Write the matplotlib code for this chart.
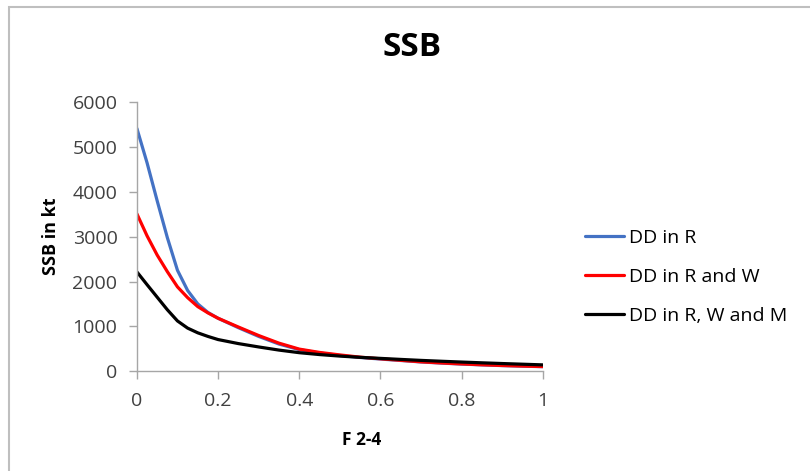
import matplotlib.pyplot as plt
from matplotlib.patches import Rectangle

# F 2-4 values and SSB (kt)
f_values = [0.0, 0.025, 0.05, 0.075, 0.1, 0.125, 0.15, 0.175, 0.2, 0.25,
            0.3, 0.35, 0.4, 0.45, 0.5, 0.55, 0.6, 0.65, 0.7, 0.75, 0.8,
            0.85, 0.9, 0.95, 1.0]
ssb_dd_r = [5415, 4650, 3800, 2980, 2250, 1800, 1500, 1310, 1180, 970,
            775, 605, 480, 405, 350, 305, 270, 238, 205, 180, 158,
            140, 124, 111, 100]
ssb_dd_rw = [3510, 3020, 2590, 2220, 1880, 1640, 1440, 1300, 1180, 985,
             795, 625, 492, 418, 362, 312, 276, 242, 208, 183, 161,
             142, 126, 113, 102]
ssb_dd_rwm = [2215, 1930, 1650, 1370, 1120, 960, 855, 775, 705, 615,
              540, 470, 412, 370, 336, 308, 285, 262, 240, 221, 203,
              186, 170, 155, 140]

series_labels = ["DD in R", "DD in R and W", "DD in R, W and M"]
series_colors = ["#4472C4", "#FF0000", "#000000"]
x_ticks = [0, 0.2, 0.4, 0.6, 0.8, 1]
x_tick_labels = ["0", "0.2", "0.4", "0.6", "0.8", "1"]
y_ticks = [0, 1000, 2000, 3000, 4000, 5000, 6000]

plt.rcParams['font.family'] = ['Open Sans', 'DejaVu Sans']

fig = plt.figure(figsize=(8.1, 4.71), dpi=100)
ax = fig.add_axes([0.169, 0.212, 0.501, 0.571])

# outer chart border (gray frame that runs off the right/bottom edges)
fig.patches.append(Rectangle((9 / 810, -0.05), 1.0, 1 - 7 / 471 + 0.05,
                             transform=fig.transFigure, fill=False,
                             edgecolor="#BFBFBF", linewidth=1.5))

for ys, label, color in zip([ssb_dd_r, ssb_dd_rw, ssb_dd_rwm], series_labels, series_colors):
    ax.plot(f_values, ys, color=color, linewidth=2.3, label=label,
            solid_capstyle="round", solid_joinstyle="round")

ax.set_xlim(0, 1)
ax.set_ylim(0, 6000)
ax.set_xticks(x_ticks)
ax.set_xticklabels(x_tick_labels)
ax.set_yticks(y_ticks)

for side in ["top", "right"]:
    ax.spines[side].set_visible(False)
for side in ["left", "bottom"]:
    ax.spines[side].set_color("#A6A6A6")
    ax.spines[side].set_linewidth(1.0)
ax.tick_params(axis="both", colors="#A6A6A6", length=6, width=1.0,
               labelsize=14, labelcolor="#404040", direction="out")
ax.tick_params(axis="x", pad=9)
ax.tick_params(axis="y", pad=8)

ax.set_xlabel("F 2-4", fontsize=12.5, fontweight="bold")
ax.xaxis.set_label_coords(0.554, -0.222)
ax.set_ylabel("SSB in kt", fontsize=13, fontweight="bold")
ax.yaxis.set_label_coords(-0.19, 0.50)

fig.text(412 / 810, 1 - 48 / 471, "SSB", fontsize=24, fontweight="bold",
         ha="center", va="center")

fig.legend(loc="center left", bbox_to_anchor=(567 / 810, 1 - 277 / 471),
           frameon=False, fontsize=14, handlelength=2.05, handletextpad=0.25,
           labelspacing=1.08)

fig.savefig("out.png", dpi=100)
